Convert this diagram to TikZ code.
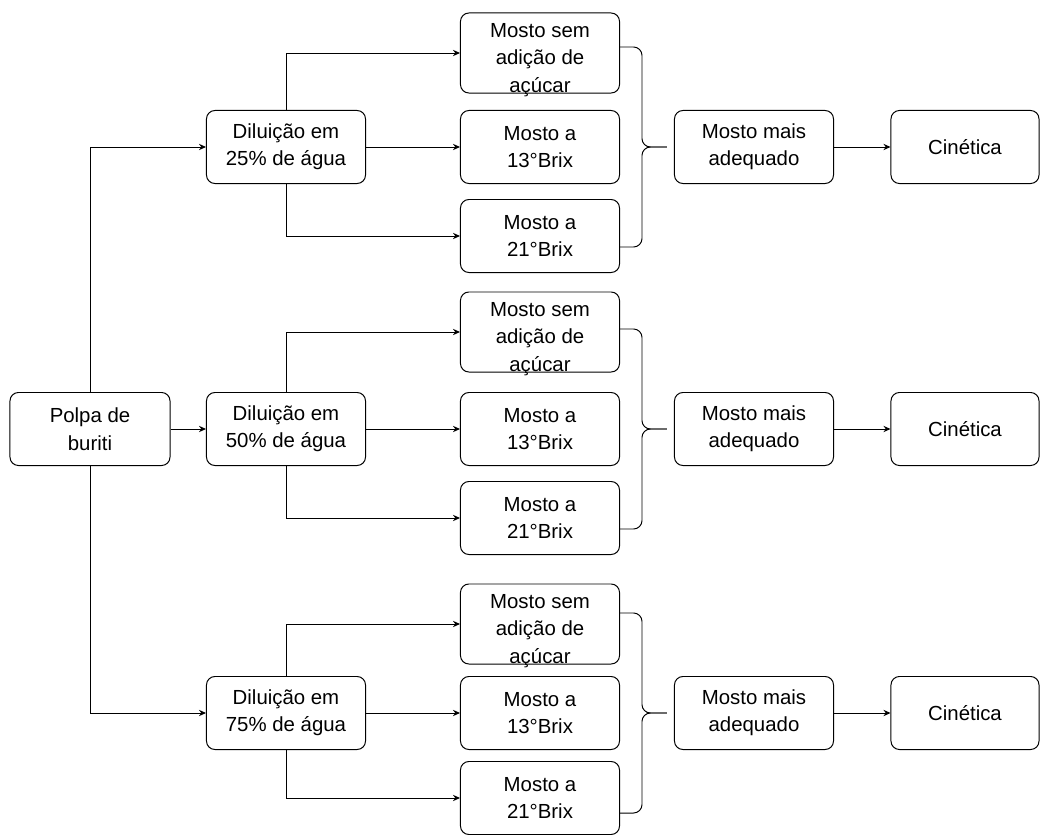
\documentclass[tikz,border=0pt]{standalone}
\usepackage{fontspec}
\setmainfont{Liberation Sans}
\usetikzlibrary{calc,arrows.meta}
\def\chave(#1){\draw[line width=0.7pt, rounded corners=6pt] ($(#1.west)+(-54,-100)$) -| ($(#1.west)+(-32,0)$) -- ($(#1.west)+(-7,0)$);
	\draw[line width=0.7pt, rounded corners=6pt] ($(#1.west)+(-54,100)$) -| ($(#1.west)+(-32,0)$) -- ($(#1.west)+(-7,0)$);}

\begin{document}
\begin{tikzpicture}[x=0.025cm, y=-0.025cm,
		letra/.style={align=center, font=\fontsize{14.5pt}{19.5pt}\selectfont},
		caixa/.style={draw, letra, line width=0.7pt, rounded corners=6pt, inner sep=1pt, minimum width=3.975cm, minimum height=1.825cm},
		alta/.style={caixa, minimum height=2cm, label={[letra, yshift=-5pt]center:Mosto sem\\adição de\\açúcar}},
		seta/.style={line width=0.7pt, -{Stealth[length=5pt,width=4.5pt]}}]
			%%%%% START %%%%%
			\useasboundingbox (0, 0) rectangle (1040, 835);
			
			\node[caixa, minimum width=4cm] (polpa) at (90, 429) {Polpa de\\buriti};
			
			\node[caixa] (dil1) at (286, 147) {Diluição em\\25\% de água};
			\node[caixa] (dil2) at (286, 429) {Diluição em\\50\% de água};
			\node[caixa] (dil3) at (286, 713) {Diluição em\\75\% de água};
			
			\draw[seta] (polpa.north) |- (dil1.west);
			\draw[seta] (polpa) -- (dil2);
			\draw[seta] (polpa.south) |- (dil3.west);
			
			% primeira diluicao
			\node[alta] (sem1) at (540, 53) {};
			\node[caixa] (brix13a) at (540, 147) {Mosto a\\13°Brix};
			\node[caixa] (brix21a) at (540, 236) {Mosto a\\21°Brix};
			\draw[seta] (dil1.north) |- (sem1.west);
			\draw[seta] (dil1) -- (brix13a);
			\draw[seta] (dil1.south) |- (brix21a.west);
			
			% segunda diluicao
			\node[alta] (sem2) at (540, 332) {};
			\node[caixa] (brix13b) at (540, 429) {Mosto a\\13°Brix};
			\node[caixa] (brix21b) at (540, 518) {Mosto a\\21°Brix};
			\draw[seta] (dil2.north) |- (sem2.west);
			\draw[seta] (dil2) -- (brix13b);
			\draw[seta] (dil2.south) |- (brix21b.west);
			
			% terceira diluicao
			\node[alta] (sem3) at (540, 624) {};
			\node[caixa] (brix13c) at (540, 713) {Mosto a\\13°Brix};
			\node[caixa] (brix21c) at (540, 798) {Mosto a\\21°Brix};
			\draw[seta] (dil3.north) |- (sem3.west);
			\draw[seta] (dil3) -- (brix13c);
			\draw[seta] (dil3.south) |- (brix21c.west);
			
			\node[caixa] (mais1) at (754, 147) {Mosto mais\\adequado};
			\node[caixa] (mais2) at (754, 429) {Mosto mais\\adequado};
			\node[caixa] (mais3) at (754, 713) {Mosto mais\\adequado};
			\chave(mais1)
			\chave(mais2)
			\chave(mais3)
			
			\node[caixa, minimum width=3.7cm] (cin1) at (965, 147) {Cinética};
			\node[caixa, minimum width=3.7cm] (cin2) at (965, 429) {Cinética};
			\node[caixa, minimum width=3.7cm] (cin3) at (965, 713) {Cinética};
			\draw[seta] (mais1) -- (cin1);
			\draw[seta] (mais2) -- (cin2);
			\draw[seta] (mais3) -- (cin3);
			
			%%%%% END %%%%%
		\end{tikzpicture}
\end{document}
